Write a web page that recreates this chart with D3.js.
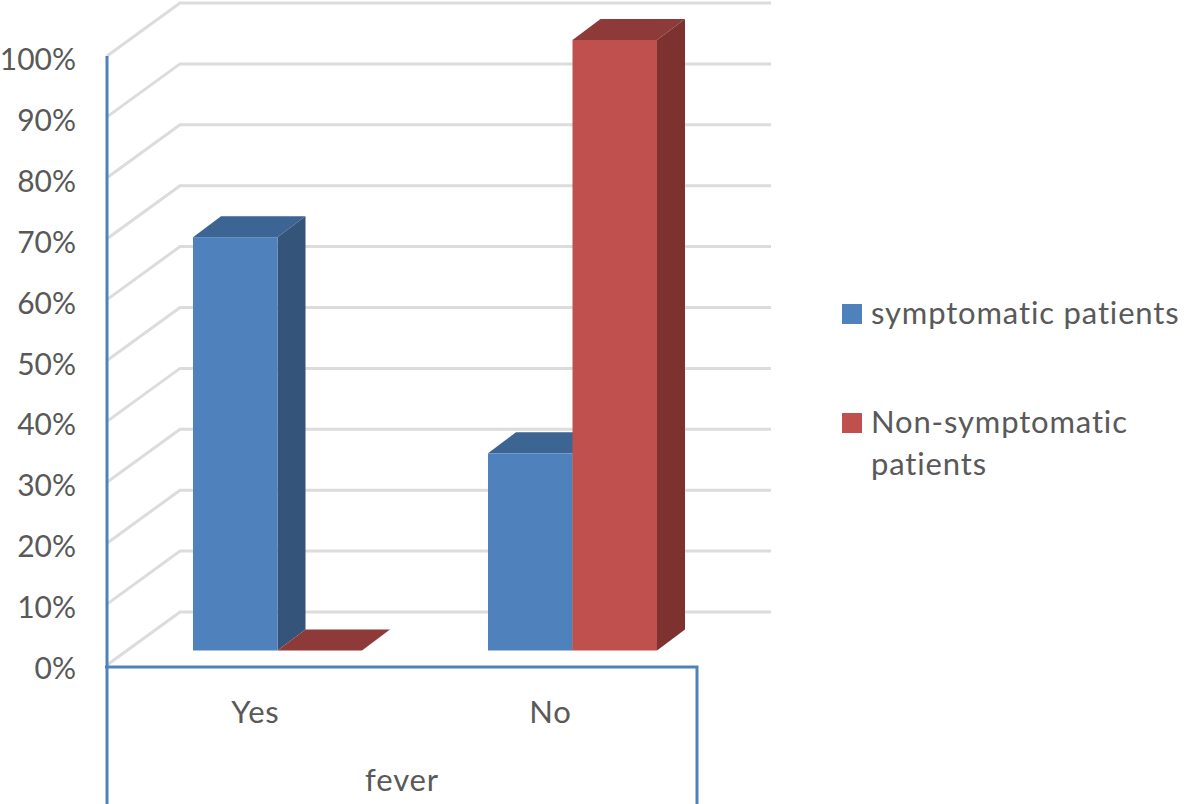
<!DOCTYPE html>
<html>
<head>
<meta charset="utf-8">
<script src="https://cdn.jsdelivr.net/npm/d3@7"></script>
<style>
  html, body { margin: 0; padding: 0; background: #fff; }
  svg { display: block; }
  text { font-family: Lato, "Open Sans", sans-serif; fill: #595959; }
  .wide { letter-spacing: 0.85px; }
</style>
</head>
<body>
<svg id="drawing" width="1184" height="804"></svg>
<script>
const categories = ["Yes", "No"];
const seriesNames = ["symptomatic patients", "Non-symptomatic patients"];
const symptomatic = [0.677, 0.323];
const nonSymptomatic = [0, 1];
const yTicks = [0, 0.1, 0.2, 0.3, 0.4, 0.5, 0.6, 0.7, 0.8, 0.9, 1];
const groupLabel = "fever";

const faces = [
   { front: "#4f81bd", side: "#345479", top: "#3d6594" },
   { front: "#c0504d", side: "#7d3230", top: "#8e3a38" }
];
const blueLine = "#4f81bd";
const gridColor = "#dcdcdc";

const wall = { dx: 73, dy: -53 };
const barDepth = { dx: 28, dy: -21 };

const svg = d3.select("svg#drawing");

// front edge of the wall, the one the axis sits on
const y = d3.scaleLinear().domain([0, 1]).range([665, 56]);
// bars stand a little inside the floor
const yBar = d3.scaleLinear().domain([0, 1]).range([650.5, 40]);

const x = d3.scaleBand().domain(categories).range([107, 697]);
const xBar = d3.scaleBand().domain(categories).range([130, 720]);
const xSeries = d3.scaleBand().domain([0, 1]).range([63, xBar.bandwidth() - 63]);

// walls and gridlines
const grid = svg.append("g").attr("fill", "none").attr("stroke", gridColor).attr("stroke-width", 3);
grid.selectAll(".wall")
   .data(yTicks)
   .enter()
   .append("path")
      .attr("class", "wall")
      .attr("d", d => {
         const p = d3.path();
         p.moveTo(x.range()[0], y(d));
         p.lineTo(x.range()[0] + wall.dx, y(d) + wall.dy);
         p.lineTo(771, y(d) + wall.dy);
         return p.toString();
      });

// bars
const barData = [];
categories.forEach((c, i) => {
   barData.push({ c, s: 0, v: symptomatic[i] });
   barData.push({ c, s: 1, v: nonSymptomatic[i] });
});

const poly = pts => pts.map(p => p.join(",")).join(" ");

const bars = svg.append("g").selectAll(".bar")
   .data(barData)
   .enter()
   .append("g")
   .attr("class", "bar");

const left = d => xBar(d.c) + xSeries(d.s);
const right = d => left(d) + xSeries.bandwidth();

bars.append("polygon")
   .attr("fill", d => faces[d.s].top)
   .attr("points", d => poly([
      [left(d), yBar(d.v)],
      [right(d), yBar(d.v)],
      [right(d) + barDepth.dx, yBar(d.v) + barDepth.dy],
      [left(d) + barDepth.dx, yBar(d.v) + barDepth.dy]
   ]));

bars.filter(d => d.v > 0).append("polygon")
   .attr("fill", d => faces[d.s].side)
   .attr("points", d => poly([
      [right(d), yBar(d.v)],
      [right(d) + barDepth.dx, yBar(d.v) + barDepth.dy],
      [right(d) + barDepth.dx, yBar(0) + barDepth.dy],
      [right(d), yBar(0)]
   ]));

bars.filter(d => d.v > 0).append("rect")
   .attr("fill", d => faces[d.s].front)
   .attr("x", left)
   .attr("y", d => yBar(d.v))
   .attr("width", xSeries.bandwidth())
   .attr("height", d => yBar(0) - yBar(d.v));

// y axis labels
const yAxis = svg.append("g")
   .attr("transform", "translate(107,0)")
   .call(d3.axisLeft(y).tickValues(yTicks).tickFormat(d3.format(".0%")).tickSize(0).tickPadding(31));
yAxis.select(".domain").remove();
yAxis.selectAll("text")
   .attr("font-size", 30)
   .attr("dy", "0.35em")
   .attr("transform", "translate(0,3)")
   .style("font-family", "Lato, sans-serif")
   .style("fill", "#595959");

// axis box
const frame = d3.path();
frame.moveTo(107, 56);
frame.lineTo(107, 804);
frame.moveTo(105, 667);
frame.lineTo(697, 667);
frame.lineTo(697, 804);
svg.append("path")
   .attr("d", frame.toString())
   .attr("fill", "none")
   .attr("stroke", blueLine)
   .attr("stroke-width", 3);

// category labels
svg.selectAll(".cat")
   .data(categories)
   .enter()
   .append("text")
      .attr("class", "cat wide")
      .attr("x", d => x(d) + x.bandwidth() / 2 + 1)
      .attr("y", 723)
      .attr("text-anchor", "middle")
      .attr("font-size", 31)
      .text(d => d);

svg.append("text")
   .attr("class", "wide")
   .attr("x", d3.mean(x.range()))
   .attr("y", 791)
   .attr("text-anchor", "middle")
   .attr("font-size", 31)
   .text(groupLabel);

// legend
const legendRows = [
   { lines: ["symptomatic patients"], top: 304, base: [324] },
   { lines: ["Non-symptomatic", "patients"], top: 413, base: [433, 475] }
];
const legend = svg.selectAll(".legend")
   .data(legendRows)
   .enter()
   .append("g")
   .attr("class", "legend");

legend.append("rect")
   .attr("x", 842)
   .attr("y", d => d.top)
   .attr("width", 20)
   .attr("height", 20)
   .attr("fill", (d, i) => faces[i].front);

legend.each(function(d) {
   d3.select(this).selectAll("text")
      .data(d.lines)
      .enter()
      .append("text")
      .attr("class", "wide")
      .attr("x", 871)
      .attr("y", (l, i) => d.base[i])
      .attr("font-size", 31)
      .text(l => l);
});
</script>
</body>
</html>
